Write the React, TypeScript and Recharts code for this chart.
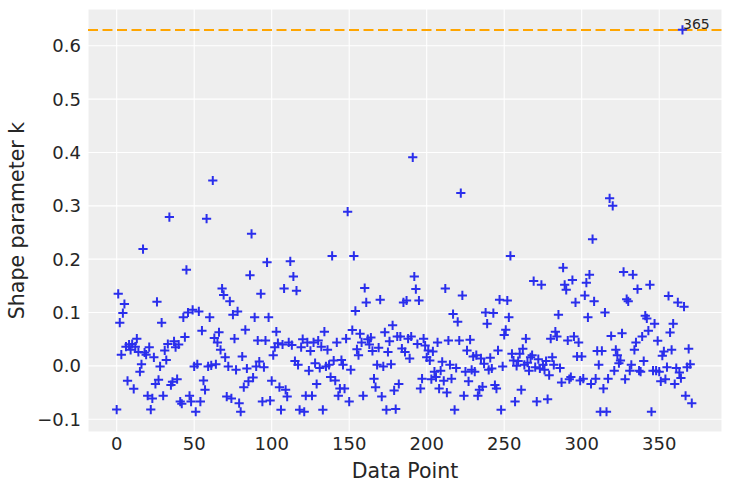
import React from "react";
import {
  ScatterChart,
  Scatter,
  XAxis,
  YAxis,
  CartesianGrid,
  ReferenceLine,
  ReferenceDot,
} from "recharts";

// Pareto shape parameter k for each data point (index = position in array)
const khat: number[] = [
  -0.082, 0.135, 0.081, 0.021, 0.099, 0.116, 0.036, -0.028, 0.04, 0.03,
  0.041, -0.043, 0.036, 0.051, 0.026, -0.011, 0.003, 0.219, 0.025, 0.021,
  -0.056, 0.035, -0.082, -0.061, 0.016, -0.034, 0.12, -0.026, -0.001, 0.081,
  -0.056, 0.029, 0.011, 0.041, 0.279, -0.036, -0.03, 0.046, 0.035, -0.025,
  0.04, -0.067, -0.071, 0.091, 0.054, 0.18, 0.1, -0.056, -0.067, 0.105,
  -0.001, -0.086, 0.003, 0.102, -0.067, 0.066, -0.0275, -0.045, 0.276, -0.001,
  0.091, 0.001, 0.3475, 0.052, 0.003, 0.044, 0.063, 0.03, 0.145, 0.133,
  0.016, -0.0575, -0.001, 0.121, -0.061, 0.096, 0.051, -0.0075, 0.102, -0.07,
  -0.086, 0.0175, -0.04, 0.0675, -0.005, -0.029, 0.17, 0.2475, -0.022, 0.091,
  -0.001, 0.0475, 0.008, 0.135, -0.067, -0.0025, 0.0475, 0.194, 0.091, -0.065,
  -0.028, 0.02, 0.035, 0.064, 0.0425, -0.04, -0.0825, 0.04, 0.145, -0.045,
  -0.0575, 0.044, 0.196, 0.039, 0.1675, 0.009, 0.141, 0.002, -0.0825, 0.035,
  0.05, -0.086, -0.056, 0.044, -0.009, 0.028, -0.056, 0.044, 0.005, -0.034,
  0.0475, -0.004, 0.036, -0.0825, 0.064, -0.001, 0.03, 0.002, -0.021, 0.206,
  0.01, -0.0275, 0.044, -0.056, -0.0425, 0.011, 0.002, -0.0425, 0.051, 0.289,
  -0.067, -0.0075, 0.067, 0.206, 0.103, 0.031, 0.02, 0.06, 0.044, -0.056,
  0.146, 0.119, 0.05, 0.04, 0.053, 0.028, -0.024, -0.04, 0.002, 0.034,
  0.124, -0.0575, -0.001, 0.063, -0.0825, 0.026, 0.046, 0.003, 0.076, -0.046,
  -0.081, 0.055, -0.034, 0.055, 0.0325, 0.119, 0.026, 0.1225, 0.051, 0.014,
  0.055, 0.391, 0.1675, 0.144, 0.041, 0.1225, -0.0425, -0.024, 0.051, 0.038,
  0.016, 0.029, 0.01, -0.025, 0.027, -0.011, -0.021, 0.044, -0.0425, -0.009,
  0.0075, -0.028, 0.145, -0.05, 0.0475, 0.002, -0.024, 0.097, -0.0825, -0.004,
  0.0825, 0.0475, 0.324, 0.132, -0.056, -0.011, 0.029, -0.029, 0.049, -0.0075,
  0.0175, -0.011, 0.02, -0.056, -0.045, 0.014, -0.039, 0.004, 0.1, 0.079,
  -0.0075, 0.015, -0.005, 0.099, -0.036, -0.0425, 0.029, 0.124, -0.0825, -0.001,
  0.058, 0.0675, 0.1225, 0.091, 0.206, 0.0225, 0.01, -0.067, 0.0, 0.009,
  0.0225, -0.045, 0.032, 0.002, 0.051, 0.006, -0.009, 0.016, 0.02, 0.159,
  -0.0025, -0.067, 0.0125, -0.005, 0.152, 0.002, -0.0075, 0.009, -0.0625, -0.0175,
  0.051, 0.016, 0.002, 0.064, 0.055, 0.096, -0.004, -0.031, 0.184, 0.152,
  0.1425, 0.0475, -0.025, -0.021, 0.161, 0.055, 0.119, 0.0175, 0.044, -0.0275,
  0.0175, -0.024, 0.132, 0.156, 0.091, 0.171, -0.034, 0.2375, 0.121, -0.024,
  0.028, 0.002, -0.086, 0.028, -0.0425, 0.1, -0.086, -0.024, 0.314, 0.056,
  0.3, -0.009, 0.03, 0.02, 0.005, 0.01, 0.061, 0.176, -0.025, 0.125,
  0.121, -0.009, 0.002, 0.171, 0.03, 0.044, 0.144, -0.009, -0.011, 0.055,
  0.009, 0.094, 0.089, 0.066, 0.152, -0.086, -0.009, 0.079, -0.009, 0.047,
  -0.011, -0.029, 0.019, 0.027, -0.025, -0.0025, 0.131, 0.0625, 0.03, 0.079,
  -0.034, -0.004, 0.119, -0.0125, -0.023, 0.63, 0.111, -0.056, -0.0025, 0.032,
  0.003, -0.07,
];

const goodK = 0.6295;
const xTicks = [0, 50, 100, 150, 200, 250, 300, 350];
const yTicks = [-0.1, 0, 0.1, 0.2, 0.3, 0.4, 0.5, 0.6];
const xLabel = "Data Point";
const yLabel = "Shape parameter k";

const data = khat.map((k, i) => ({ i, k }));
const flagged = data.filter((d) => d.k >= goodK - 0.001);

const FONT = "'DejaVu Sans', sans-serif";
const TEXT = "#262626";
const BLUE = "#2a2eec";

const PLOT_LEFT = 88;
const PLOT_RIGHT = 722;
const PLOT_TOP = 9;
const PLOT_BOTTOM = 432;

const Plus = (props: any) => {
  const { cx, cy } = props;
  if (cx == null || cy == null) return null;
  const s = 4.6;
  return (
    <path
      d={`M${cx - s},${cy}H${cx + s}M${cx},${cy - s}V${cy + s}`}
      stroke={BLUE}
      strokeWidth={2}
      fill="none"
    />
  );
};

const fmtY = (v: number) =>
  (v < 0 ? "\u2212" : "") + Math.abs(v).toFixed(1);

export default function App() {
  return (
    <div style={{ position: "absolute", left: 0, top: 0, width: 731, height: 491, background: "#ffffff" }}>
      <ScatterChart
        width={731}
        height={491}
        margin={{ top: PLOT_TOP, right: 731 - PLOT_RIGHT, left: 0, bottom: 0 }}
      >
        <CartesianGrid
          stroke="#ffffff"
          strokeWidth={1.1}
          fill="#eeeeee"
          fillOpacity={1}
        />
        <XAxis
          type="number"
          dataKey="i"
          domain={[-18.5, 390.5]}
          ticks={xTicks}
          allowDataOverflow
          axisLine={false}
          tickLine={false}
          tickSize={0}
          tickMargin={5}
          height={491 - PLOT_BOTTOM}
          tick={{ fontSize: 18, fill: TEXT, fontFamily: FONT }}
          label={{
            content: () => (
              <text
                x={(PLOT_LEFT + PLOT_RIGHT) / 2}
                y={478}
                textAnchor="middle"
                fontSize={20.5}
                fill={TEXT}
                fontFamily={FONT}
              >
                {xLabel}
              </text>
            ),
          }}
        />
        <YAxis
          type="number"
          dataKey="k"
          domain={[-0.124, 0.669]}
          ticks={yTicks}
          allowDataOverflow
          axisLine={false}
          tickLine={false}
          tickSize={0}
          tickMargin={7}
          width={PLOT_LEFT}
          tickFormatter={fmtY}
          tick={{ fontSize: 18, fill: TEXT, fontFamily: FONT }}
          label={{
            content: () => {
              const cy = (PLOT_TOP + PLOT_BOTTOM) / 2;
              return (
                <text
                  x={24}
                  y={cy}
                  transform={`rotate(-90, 24, ${cy})`}
                  textAnchor="middle"
                  fontSize={20.5}
                  fill={TEXT}
                  fontFamily={FONT}
                >
                  {yLabel}
                </text>
              );
            },
          }}
        />
        <Scatter data={data} shape={Plus} isAnimationActive={false} />
        <ReferenceLine
          y={goodK}
          stroke="#FFA500"
          strokeWidth={2}
          strokeDasharray="10 4.5"
        />
        {flagged.map((d) => (
          <ReferenceDot
            key={d.i}
            x={d.i}
            y={d.k}
            r={0}
            shape={(p: any) => (
              <text
                x={p.cx + 0.5}
                y={p.cy - 0.5}
                fontSize={14}
                fill={TEXT}
                fontFamily={FONT}
              >
                {String(d.i)}
              </text>
            )}
          />
        ))}
      </ScatterChart>
    </div>
  );
}
